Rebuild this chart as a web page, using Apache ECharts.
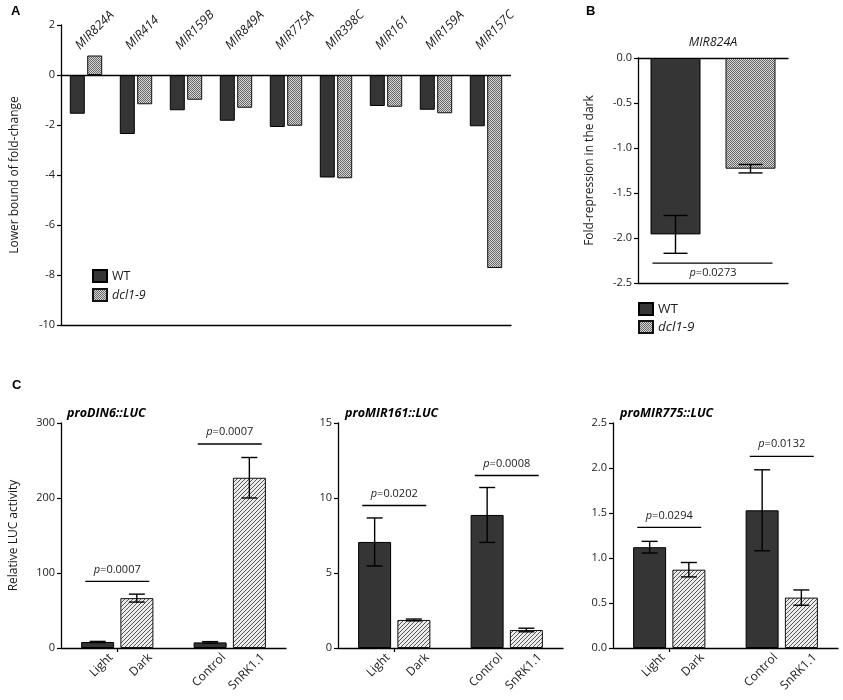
<!DOCTYPE html>
<html>

<head>
    <meta charset="utf-8">
    <title>MIR824A and LUC reporters</title>
    <script src="https://cdn.jsdelivr.net/npm/echarts@6/dist/echarts.min.js"></script>
    <style>
        body { margin: 0; background: #fff; }
    </style>
</head>

<body>
    <div id="main" style="width: 843px;height:700px;"></div>
    <script type="text/javascript">
        // ---- panel A : lower bound of fold-change ----
        var aGenes = ['MIR824A', 'MIR414', 'MIR159B', 'MIR849A', 'MIR775A', 'MIR398C', 'MIR161', 'MIR159A', 'MIR157C'];
        var aWT = [-1.55, -2.36, -1.41, -1.83, -2.08, -4.1, -1.24, -1.39, -2.05];
        var aDcl = [0.78, -1.17, -0.99, -1.31, -2.03, -4.13, -1.27, -1.53, -7.72];

        // ---- panel B : MIR824A fold-repression in the dark ----
        var bGene = 'MIR824A';
        var bGroups = ['WT', 'dcl1-9'];
        var bMeans = [-1.96, -1.23];
        var bErrors = [0.21, 0.047];
        var bPvalue = 'p=0.0273';
        var bBracket = -2.28;

        // ---- panel C : relative LUC activity ----
        var cConstructs = ['proDIN6::LUC', 'proMIR161::LUC', 'proMIR775::LUC'];
        var cConditions = ['Light', 'Dark', 'Control', 'SnRK1.1'];
        var cMeans = [
            [8, 66.5, 7.5, 227],
            [7.07, 1.87, 8.87, 1.2],
            [1.12, 0.87, 1.53, 0.56]
        ];
        var cErrors = [
            [0.8, 5.3, 1, 27],
            [1.6, 0.06, 1.83, 0.12],
            [0.065, 0.08, 0.45, 0.085]
        ];
        var cPvalues = [['p=0.0007', 'p=0.0007'], ['p=0.0202', 'p=0.0008'], ['p=0.0294', 'p=0.0132']];
        var cBrackets = [[88.8, 272], [9.5, 11.5], [1.34, 2.13]];
        var cMax = [300, 15, 2.5];
        var cStep = [100, 5, 0.5];

        var FONT = 'Open Sans';
        var INK = '#1a1a1a';

        // small canvas tiles used as bar fills
        function checkerFill() {
            var c = document.createElement('canvas');
            c.width = c.height = 2;
            var g = c.getContext('2d');
            g.fillStyle = '#d8d8d8';
            g.fillRect(0, 0, 2, 2);
            g.fillStyle = '#666';
            g.fillRect(0, 0, 1, 1);
            g.fillRect(1, 1, 1, 1);
            return { image: c, repeat: 'repeat' };
        }

        function hatchFill() {
            var c = document.createElement('canvas');
            c.width = c.height = 4;
            var g = c.getContext('2d');
            g.fillStyle = '#ececec';
            g.fillRect(0, 0, 4, 4);
            g.fillStyle = '#555';
            for (var i = 0; i < 4; i++) {
                g.fillRect(3 - i, i, 1, 1);
            }
            return { image: c, repeat: 'repeat' };
        }

        var darkStyle = { color: '#353535', borderColor: '#000', borderWidth: 1 };
        var checkStyle = { color: checkerFill(), borderColor: '#111', borderWidth: 1 };
        var hatchStyle = { color: hatchFill(), borderColor: '#111', borderWidth: 1 };

        function pText(s) {
            var parts = s.split('=');
            return '{i|' + parts[0] + '}=' + parts[1];
        }

        function pStyle(s) {
            return {
                text: pText(s),
                align: 'center',
                verticalAlign: 'middle',
                fill: '#222',
                fontSize: 11,
                fontFamily: FONT,
                rich: { i: { fontStyle: 'italic', fontSize: 11, fontFamily: FONT, fill: '#222' } }
            };
        }

        // error bars: [category, mean, error, side], side shifts to the grouped bar
        function errorBars(halfCap, shift) {
            return function (params, api) {
                var idx = api.value(0);
                var mean = api.value(1);
                var err = api.value(2);
                var x = api.coord([idx, mean])[0] + api.value(3) * shift;
                var yTop = api.coord([idx, mean + err])[1];
                var yBot = api.coord([idx, mean - err])[1];
                var st = { stroke: '#000', lineWidth: 1.4 };
                return {
                    type: 'group',
                    children: [
                        { type: 'line', shape: { x1: x, y1: yTop, x2: x, y2: yBot }, style: st },
                        { type: 'line', shape: { x1: x - halfCap, y1: yTop, x2: x + halfCap, y2: yTop }, style: st },
                        { type: 'line', shape: { x1: x - halfCap, y1: yBot, x2: x + halfCap, y2: yBot }, style: st }
                    ]
                };
            };
        }

        // 45 degree labels drawn as text next to the category positions
        function slantText(text, x, y, align, italic, size) {
            return {
                type: 'text', x: x, y: y, rotation: Math.PI / 4,
                style: {
                    text: text, align: align, verticalAlign: 'middle',
                    fontSize: size, fontStyle: italic ? 'italic' : 'normal',
                    fontFamily: FONT, fill: INK
                }
            };
        }

        function valueAxis(grid, min, max, step, name, gap, fixed) {
            return {
                type: 'value', gridIndex: grid, min: min, max: max, interval: step,
                name: name, nameLocation: 'middle', nameGap: gap,
                nameTextStyle: { fontSize: 12, color: INK, fontFamily: FONT },
                axisLine: { show: true, onZero: false, lineStyle: { color: '#000', width: 1.3 } },
                axisTick: { show: true, length: 4, lineStyle: { color: '#000', width: 1.2 } },
                axisLabel: {
                    fontSize: 11, color: '#222', margin: 6, fontFamily: FONT,
                    formatter: function (v) { return fixed ? v.toFixed(1) : String(v); }
                },
                splitLine: { show: false }
            };
        }

        function lineAxis(grid, data, pos, ticks) {
            return {
                type: 'category', gridIndex: grid, data: data, position: pos,
                axisLine: { show: true, onZero: false, lineStyle: { color: '#000', width: 1.3 } },
                axisTick: { show: ticks, alignWithLabel: true, length: 4, lineStyle: { color: '#000', width: 1.2 } },
                axisLabel: { show: false },
                splitLine: { show: false }
            };
        }

        var xAxes = [
            lineAxis(0, aGenes, 'bottom', false),
            lineAxis(1, bGroups, 'top', false),
            lineAxis(1, bGroups, 'bottom', false)
        ];
        xAxes[1].name = bGene;
        xAxes[1].nameLocation = 'middle';
        xAxes[1].nameGap = 9;
        xAxes[1].nameTextStyle = { fontSize: 12.5, fontStyle: 'italic', color: INK, fontFamily: FONT };

        var yAxes = [
            valueAxis(0, -10, 2, 2, 'Lower bound of fold-change', 40, false),
            valueAxis(1, -2.5, 0, 0.5, 'Fold-repression in the dark', 42, true),
        ];

        var series = [
            {
                name: 'WT', type: 'bar', xAxisIndex: 0, yAxisIndex: 0, data: aWT,
                barWidth: 15, barGap: '16%', itemStyle: darkStyle,
                markLine: {
                    silent: true, symbol: 'none', label: { show: false },
                    lineStyle: { color: '#000', type: 'solid', width: 1.3 },
                    data: [{ yAxis: 0 }]
                }
            },
            {
                name: 'dcl1-9', type: 'bar', xAxisIndex: 0, yAxisIndex: 0, data: aDcl,
                barWidth: 15, barGap: '16%', itemStyle: checkStyle
            },
            {
                // gene names above panel A
                type: 'custom', xAxisIndex: 0, yAxisIndex: 0, clip: false, silent: true,
                data: aGenes.map(function (g, i) { return [i, 0]; }),
                renderItem: function (params, api) {
                    var x = api.coord([api.value(0), 0])[0];
                    return slantText(aGenes[params.dataIndex], x - 8.5, params.coordSys.y + 22.5, 'left', true, 12.5);
                }
            },
            {
                name: 'WT', type: 'bar', xAxisIndex: 2, yAxisIndex: 1, stack: 'b',
                data: [bMeans[0], '-'], barWidth: 50, itemStyle: darkStyle
            },
            {
                name: 'dcl1-9', type: 'bar', xAxisIndex: 2, yAxisIndex: 1, stack: 'b',
                data: ['-', bMeans[1]], barWidth: 50, itemStyle: checkStyle
            },
            {
                type: 'custom', xAxisIndex: 2, yAxisIndex: 1, z: 5, clip: false,
                data: bMeans.map(function (m, i) { return [i, m, bErrors[i], 0]; }),
                renderItem: errorBars(12, 0)
            },
            {
                type: 'custom', xAxisIndex: 2, yAxisIndex: 1, z: 5, clip: false,
                data: [[0, bBracket]],
                renderItem: function (params, api) {
                    var a = api.coord([0, api.value(1)]);
                    var b = api.coord([bGroups.length - 1, api.value(1)]);
                    return {
                        type: 'group',
                        children: [
                            { type: 'line', shape: { x1: a[0] - 23, y1: a[1], x2: b[0] + 22, y2: a[1] }, style: { stroke: '#000', lineWidth: 1.3 } },
                            { type: 'text', x: (a[0] + b[0]) / 2, y: a[1] + 10, style: pStyle(bPvalue) }
                        ]
                    };
                }
            }
        ];

        var grids = [
            { left: 61, top: 25, width: 450, height: 300 },
            { left: 638, top: 58, width: 150, height: 225 }
        ];
        var cLefts = [61, 338, 613];
        var SHIFT = 19.6;

        cConstructs.forEach(function (construct, k) {
            var g = 2 + k;
            grids.push({ left: cLefts[k], top: 423, width: 225, height: 225 });
            xAxes.push(lineAxis(g, [cConditions[0] + '/' + cConditions[1], cConditions[2] + '/' + cConditions[3]], 'bottom', true));
            yAxes.push(valueAxis(g, 0, cMax[k], cStep[k], k === 0 ? 'Relative LUC activity' : '', 41, k === 2));
            var xi = 3 + k;
            var yi = 2 + k;
            series.push({
                name: construct + ' a', type: 'bar', xAxisIndex: xi, yAxisIndex: yi,
                data: [cMeans[k][0], cMeans[k][2]], barWidth: 33, barGap: '19%',
                itemStyle: darkStyle
            });
            series.push({
                name: construct + ' b', type: 'bar', xAxisIndex: xi, yAxisIndex: yi,
                data: [cMeans[k][1], cMeans[k][3]], barWidth: 33, barGap: '19%',
                itemStyle: hatchStyle
            });
            series.push({
                type: 'custom', xAxisIndex: xi, yAxisIndex: yi, z: 5, clip: false,
                data: cMeans[k].map(function (m, i) {
                    return [Math.floor(i / 2), m, cErrors[k][i], i % 2 === 0 ? -1 : 1];
                }),
                renderItem: errorBars(8, SHIFT)
            });
            series.push({
                type: 'custom', xAxisIndex: xi, yAxisIndex: yi, z: 5, clip: false,
                data: cBrackets[k].map(function (v, i) { return [i, v]; }),
                renderItem: function (params, api) {
                    var pt = api.coord([api.value(0), api.value(1)]);
                    return {
                        type: 'group',
                        children: [
                            { type: 'line', shape: { x1: pt[0] - 32, y1: pt[1], x2: pt[0] + 32, y2: pt[1] }, style: { stroke: '#000', lineWidth: 1.3 } },
                            { type: 'text', x: pt[0], y: pt[1] - 12, style: pStyle(cPvalues[k][params.dataIndex]) }
                        ]
                    };
                }
            });
            // condition names under each bar
            series.push({
                type: 'custom', xAxisIndex: xi, yAxisIndex: yi, clip: false, silent: true,
                data: cConditions.map(function (c, i) { return [Math.floor(i / 2), 0]; }),
                renderItem: function (params, api) {
                    var side = params.dataIndex % 2 === 0 ? -1 : 1;
                    var x = api.coord([api.value(0), 0])[0] + side * SHIFT + 13.5;
                    var y = params.coordSys.y + params.coordSys.height + 7.5;
                    return slantText(cConditions[params.dataIndex], x, y, 'right', false, 12);
                }
            });
        });

        function legendName(name) {
            return name === 'dcl1-9' ? '{i|' + name + '}' : name;
        }

        function legendAt(left, top, size, gap) {
            return {
                data: bGroups, orient: 'vertical', left: left, top: top, padding: 0,
                icon: 'rect', itemWidth: 14, itemHeight: 12, itemGap: gap,
                selectedMode: false, formatter: legendName,
                textStyle: {
                    fontSize: size, color: INK, fontFamily: FONT,
                    rich: { i: { fontStyle: 'italic', fontSize: size, fontFamily: FONT, color: INK } }
                }
            };
        }

        function panelTitle(text, left, top) {
            return {
                text: text, left: left, top: top, padding: 0,
                textStyle: { fontSize: 13, fontWeight: 'bold', color: '#000', fontFamily: 'Liberation Sans' }
            };
        }

        function constructTitle(text, left) {
            return {
                text: text, left: left, top: 407, padding: 0,
                textStyle: { fontSize: 12.5, fontWeight: 'bold', fontStyle: 'italic', color: '#000', fontFamily: FONT }
            };
        }

        var myChart = echarts.init(document.getElementById('main'));
        myChart.setOption({
            animation: false,
            backgroundColor: '#fff',
            textStyle: { fontFamily: FONT },
            title: [
                panelTitle('A', 11, 5),
                panelTitle('B', 586, 5),
                panelTitle('C', 12, 379),
                constructTitle(cConstructs[0], 67),
                constructTitle(cConstructs[1], 345),
                constructTitle(cConstructs[2], 620)
            ],
            legend: [
                legendAt(92, 269, 12.5, 5),
                legendAt(638, 302, 13.5, 4)
            ],
            grid: grids,
            xAxis: xAxes,
            yAxis: yAxes,
            series: series
        });
    </script>
</body>

</html>
